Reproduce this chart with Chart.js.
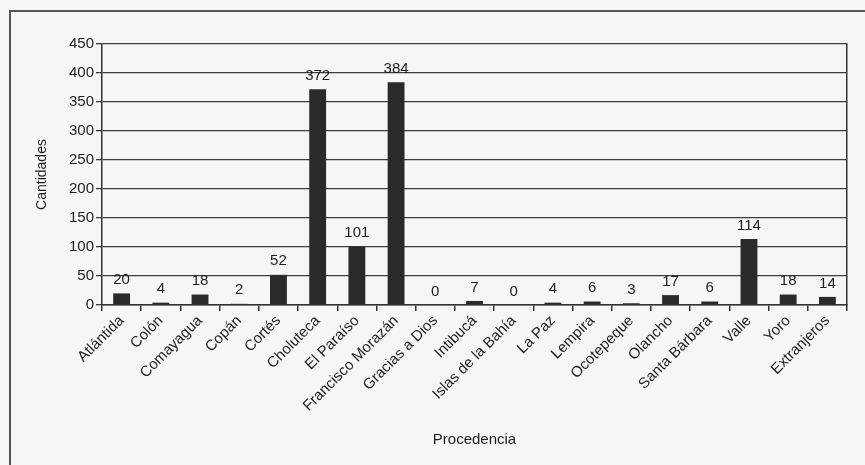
<!DOCTYPE html>
<html lang="es">
<head>
<meta charset="utf-8">
<title>Procedencia</title>
<script src="https://cdn.jsdelivr.net/npm/chart.js@4"></script>
<style>
    body { margin: 0; background: #f6f6f4; }
    #wrap { position: relative; width: 865px; height: 465px; overflow: hidden; }
    #frame {
        position: absolute; left: 9px; top: 10px; width: 900px; height: 500px;
        border-left: 2px solid #555; border-top: 2px solid #555;
    }
    #chart { position: absolute; left: 0; top: 0; }
</style>
</head>
<body>
<div id="wrap">
    <div id="frame"></div>
    <canvas id="chart" width="865" height="465"></canvas>
</div>
<script>
// 区分（県名）
const categories = ['Atlántida', 'Colón', 'Comayagua', 'Copán', 'Cortés', 'Choluteca', 'El Paraíso',
    'Francisco Morazán', 'Gracias a Dios', 'Intibucá', 'Islas de la Bahía', 'La Paz', 'Lempira',
    'Ocotepeque', 'Olancho', 'Santa Bárbara', 'Valle', 'Yoro', 'Extranjeros'];
// 値
const cantidades = [20, 4, 18, 2, 52, 372, 101, 384, 0, 7, 0, 4, 6, 3, 17, 6, 114, 18, 14];
// Y軸目盛
const yTicks = [0, 50, 100, 150, 200, 250, 300, 350, 400, 450];

const FONT = '"Liberation Sans", Arial, sans-serif';

// 棒の上に数値を描くプラグイン
const valueLabels = {
    id: 'valueLabels',
    afterDatasetsDraw(chart) {
        const ctx = chart.ctx;
        const meta = chart.getDatasetMeta(0);
        ctx.save();
        ctx.font = '15px ' + FONT;
        ctx.fillStyle = '#1e1e1e';
        ctx.textAlign = 'center';
        ctx.textBaseline = 'bottom';
        meta.data.forEach((bar, i) => {
            ctx.fillText(String(cantidades[i]), bar.x, bar.y - 6);
        });
        ctx.restore();
    }
};

new Chart(document.getElementById('chart'), {
    type: 'bar',
    data: {
        labels: categories,
        datasets: [{
            data: cantidades,
            backgroundColor: '#2a2a2a',
            borderWidth: 0,
            barPercentage: 0.86,
            categoryPercentage: 0.5
        }]
    },
    options: {
        responsive: false,
        animation: false,
        layout: { padding: { left: 32, top: 44, right: 18, bottom: 16 } },
        plugins: {
            legend: { display: false },
            tooltip: { enabled: false }
        },
        scales: {
            x: {
                ticks: {
                    autoSkip: false, maxRotation: 45, minRotation: 45,
                    color: '#1e1e1e', font: { family: FONT, size: 15 }, padding: 1
                },
                grid: { drawOnChartArea: false, drawTicks: true, tickLength: 6, color: '#333', lineWidth: 1.5, offset: true },
                border: { color: '#333', width: 1.5 },
                title: { display: true, text: 'Procedencia', color: '#1e1e1e', font: { family: FONT, size: 15 }, padding: 0 },
                afterFit(axis) { axis.height = 144; }
            },
            y: {
                min: 0, max: 450,
                afterBuildTicks(axis) { axis.ticks = yTicks.map(v => ({ value: v })); },
                ticks: { color: '#1e1e1e', font: { family: FONT, size: 15 }, padding: 2 },
                grid: { color: '#3c3c3c', lineWidth: 1.3, tickLength: 6 },
                border: { color: '#333', width: 1.5 },
                title: { display: true, text: 'Cantidades', color: '#1e1e1e', font: { family: FONT, size: 14 }, padding: 2 },
                afterFit(axis) { axis.width = 70; }
            },
            y2: {
                position: 'right', min: 0, max: 450,
                ticks: { display: false },
                grid: { drawOnChartArea: false, drawTicks: false },
                border: { color: '#333', width: 1.5 },
                afterFit(axis) { axis.width = 0; }
            }
        }
    },
    plugins: [valueLabels]
});
</script>
</body>
</html>
